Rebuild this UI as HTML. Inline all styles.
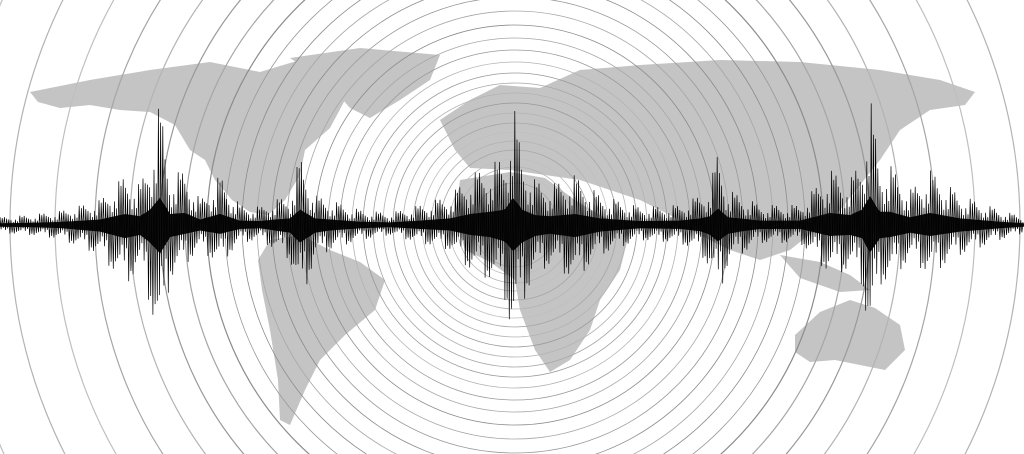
<!DOCTYPE html>
<html><head><meta charset="utf-8"><style>
html,body{margin:0;padding:0;background:#fff;width:1024px;height:454px;overflow:hidden;}
svg{display:block;overflow:hidden;}
</style></head><body>
<svg id="art" width="1024" height="454" viewBox="0 0 1024 454" xmlns="http://www.w3.org/2000/svg">
<defs><clipPath id="frame"><rect width="1024" height="454"/></clipPath></defs>
<rect width="1024" height="454" fill="#fff"/>
<g fill="#c4c4c4">
  <path d="M30,92 L90,80 L150,70 L210,62 L260,72 L300,60 L330,70 L345,100 L330,128 L305,150 L300,175 L285,200 L268,215 L250,212 L232,200 L215,180 L205,160 L190,150 L175,125 L150,112 L120,110 L90,105 L60,108 L38,102 Z"/>
  <path d="M290,58 L360,48 L440,55 L430,80 L400,100 L370,118 L350,108 L330,85 Z"/>
  <path d="M270,240 L300,235 L330,250 L360,262 L385,280 L375,310 L345,335 L320,360 L305,390 L290,425 L280,420 L278,380 L270,330 L262,290 L258,260 Z"/>
  <path d="M440,120 L470,100 L500,85 L540,88 L580,70 L640,65 L720,60 L800,62 L880,70 L940,80 L975,92 L965,105 L930,110 L900,130 L880,160 L860,185 L840,210 L815,230 L790,250 L760,260 L730,250 L700,235 L670,215 L640,200 L610,190 L580,180 L545,175 L510,170 L470,168 L455,150 Z"/>
  <path d="M460,180 L510,172 L545,178 L575,200 L600,215 L630,230 L620,270 L600,300 L590,330 L570,360 L550,372 L535,350 L520,310 L515,280 L490,262 L465,250 L455,215 Z"/>
  <path d="M795,335 L820,312 L850,300 L875,308 L900,325 L905,350 L885,370 L860,365 L835,360 L810,362 L795,352 Z"/>
  <path d="M780,255 L820,262 L850,275 L870,290 L840,292 L800,278 Z"/>
</g>
<g id="rings" fill="none" clip-path="url(#frame)"></g>
<g id="wave" clip-path="url(#frame)"></g>
</svg>
<script>
const waveX    = [0,30,60,100,125,140,150,160,170,185,200,220,240,260,275,290,300,315,330,360,390,420,450,470,490,505,513,522,535,550,575,600,640,680,700,710,718,728,740,760,800,830,850,862,870,880,890,910,930,960,1000,1024];
const waveUp   = [8,10,14,25,50,40,70,125,50,55,25,50,20,18,25,30,70,30,25,15,12,20,30,50,60,70,125,70,45,40,50,30,18,20,30,40,75,35,30,20,20,55,45,70,130,60,60,35,55,30,15,8];
const waveDown = [8,10,14,30,60,45,80,130,55,40,25,40,18,15,25,35,80,35,25,15,10,18,25,45,55,75,120,80,50,40,55,30,15,18,28,45,75,40,30,18,18,50,45,60,125,60,55,35,50,30,15,8];
const ringRadii = [18,26,34,42,50,58,66,75,84,93,102,112,122,132,142,152,163,175,187,200,214,228,243,258,273,290,308,330,355,385,420,460,505,560];
const ringShade = [0.5,0.6,0.5,0.7,0.5,0.6,0.5,0.7,0.6,0.5,0.7,0.6,0.8,0.6,0.7,0.8,0.6,0.8,0.7,0.9,0.7,0.8,0.9,0.7,0.9,0.8,0.9,0.7,0.8,0.6,0.7,0.5,0.6,0.5];
const NS='http://www.w3.org/2000/svg';
const cx=515, cy=225;
const ringsG=document.getElementById('rings');
ringRadii.forEach((r,i)=>{
  const c=document.createElementNS(NS,'circle');
  
  
  c.setAttribute('cx',cx);c.setAttribute('cy',cy);c.setAttribute('r',r);
  const g=Math.round(255*(1-ringShade[i]*0.5));
  c.setAttribute('stroke',`rgb(${g},${g},${g})`);
  c.setAttribute('stroke-width',r>300?1.2:0.8);
  ringsG.appendChild(c);
});
function env(arr,x){
  for(let i=0;i<waveX.length-1;i++){
    if(x>=waveX[i]&&x<=waveX[i+1]){
      const t=(x-waveX[i])/(waveX[i+1]-waveX[i]);
      return arr[i]+(arr[i+1]-arr[i])*t;
    }
  }
  return arr[arr.length-1];
}
const waveG=document.getElementById('wave');
let upperPts='',lowerPts='';
for(let x=0;x<=1024;x+=2){
  upperPts+=`${x},${cy-env(waveUp,x)*0.22} `;
}
for(let x=1024;x>=0;x-=2){
  lowerPts+=`${x},${cy+env(waveDown,x)*0.22} `;
}
const body=document.createElementNS(NS,'polygon');


body.setAttribute('points',upperPts+lowerPts);
body.setAttribute('fill','#111');
waveG.appendChild(body);
let d='M0,'+cy;
const pat=[1,0.55,0.85,0.35,0.95,0.6,0.75,0.4,0.65];
let k=0;
for(let x=0;x<=1024;x+=1.1){
  const f=pat[k%pat.length];
  const y=(k%2===0)? cy-env(waveUp,x)*f : cy+env(waveDown,x)*f;
  d+=` L${x.toFixed(1)},${y.toFixed(1)}`;
  k++;
}
const p=document.createElementNS(NS,'path');


p.setAttribute('d',d);
p.setAttribute('fill','none');
p.setAttribute('stroke','#000');
p.setAttribute('stroke-width','0.7');
waveG.appendChild(p);
</script>
</body></html>
